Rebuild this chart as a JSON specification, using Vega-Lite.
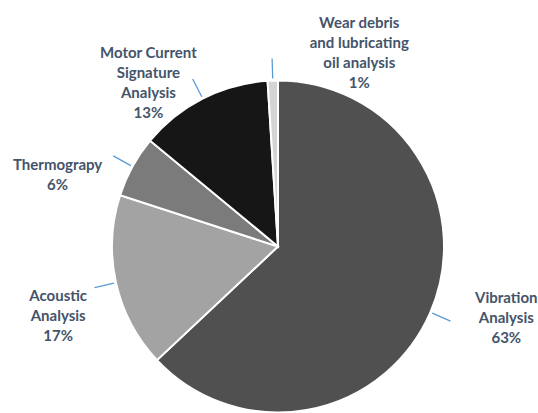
{
  "$schema": "https://vega.github.io/schema/vega-lite/v6.json",
  "width": 520,
  "height": 333,
  "autosize": {"type": "none"},
  "padding": {"left": 18, "top": 80, "right": 0, "bottom": 0},
  "background": "white",
  "config": {"view": {"stroke": null}, "text": {"font": "Lato", "fontWeight": "bold", "fontSize": 15, "color": "#44546A", "lineHeight": 20, "lineBreak": "\n", "align": "center", "baseline": "middle"}},
  "data": {"values": [
    {"category": "Vibration Analysis", "order": 1, "value": 63, "label": "Vibration\nAnalysis\n63%"},
    {"category": "Acoustic Analysis", "order": 2, "value": 17, "label": "Acoustic\nAnalysis\n17%"},
    {"category": "Thermograpy", "order": 3, "value": 6, "label": "Thermograpy\n6%"},
    {"category": "Motor Current Signature Analysis", "order": 4, "value": 13, "label": "Motor Current\nSignature\nAnalysis\n13%"},
    {"category": "Wear debris and lubricating oil analysis", "order": 5, "value": 1, "label": "Wear debris\nand lubricating\noil analysis\n1%"}
  ]},
  "transform": [
    {"stack": "value", "groupby": [], "sort": [{"field": "order", "order": "ascending"}], "as": ["v0", "v1"]},
    {"calculate": "(datum.v0 + datum.v1) / 2", "as": "mid"}
  ],
  "layer": [
    {
      "mark": {"type": "arc", "radius": 166, "stroke": "white", "strokeWidth": 2},
      "encoding": {
        "theta": {"field": "v0", "type": "quantitative", "scale": {"domain": [0, 100]}, "stack": null},
        "theta2": {"field": "v1"},
        "color": {"field": "category", "type": "nominal", "legend": null,
          "scale": {"domain": ["Vibration Analysis", "Acoustic Analysis", "Thermograpy", "Motor Current Signature Analysis", "Wear debris and lubricating oil analysis"],
                    "range": ["#505050", "#a3a3a3", "#7b7b7b", "#161616", "#d4d4d4"]}}
      }
    },
    {
      "mark": {"type": "arc", "radius": 188, "radius2": 168, "stroke": "#5B9BD5", "strokeWidth": 1.3, "fill": null},
      "encoding": {
        "theta": {"field": "mid", "type": "quantitative", "stack": null},
        "theta2": {"field": "mid"}
      }
    },
    {
      "transform": [{"filter": "datum.order == 1"}],
      "mark": {"type": "text", "radius": 215, "dx": 31, "dy": -34},
      "encoding": {"theta": {"field": "mid", "type": "quantitative", "stack": null}, "text": {"field": "label"}}
    },
    {
      "transform": [{"filter": "datum.order == 2"}],
      "mark": {"type": "text", "radius": 215, "dx": -10, "dy": 3},
      "encoding": {"theta": {"field": "mid", "type": "quantitative", "stack": null}, "text": {"field": "label"}}
    },
    {
      "transform": [{"filter": "datum.order == 3"}],
      "mark": {"type": "text", "radius": 215, "dx": -32, "dy": 22},
      "encoding": {"theta": {"field": "mid", "type": "quantitative", "stack": null}, "text": {"field": "label"}}
    },
    {
      "transform": [{"filter": "datum.order == 4"}],
      "mark": {"type": "text", "radius": 215, "dx": -32, "dy": -2},
      "encoding": {"theta": {"field": "mid", "type": "quantitative", "stack": null}, "text": {"field": "label"}}
    },
    {
      "transform": [{"filter": "datum.order == 5"}],
      "mark": {"type": "text", "radius": 215, "dx": 88, "dy": -9},
      "encoding": {"theta": {"field": "mid", "type": "quantitative", "stack": null}, "text": {"field": "label"}}
    }
  ]
}
